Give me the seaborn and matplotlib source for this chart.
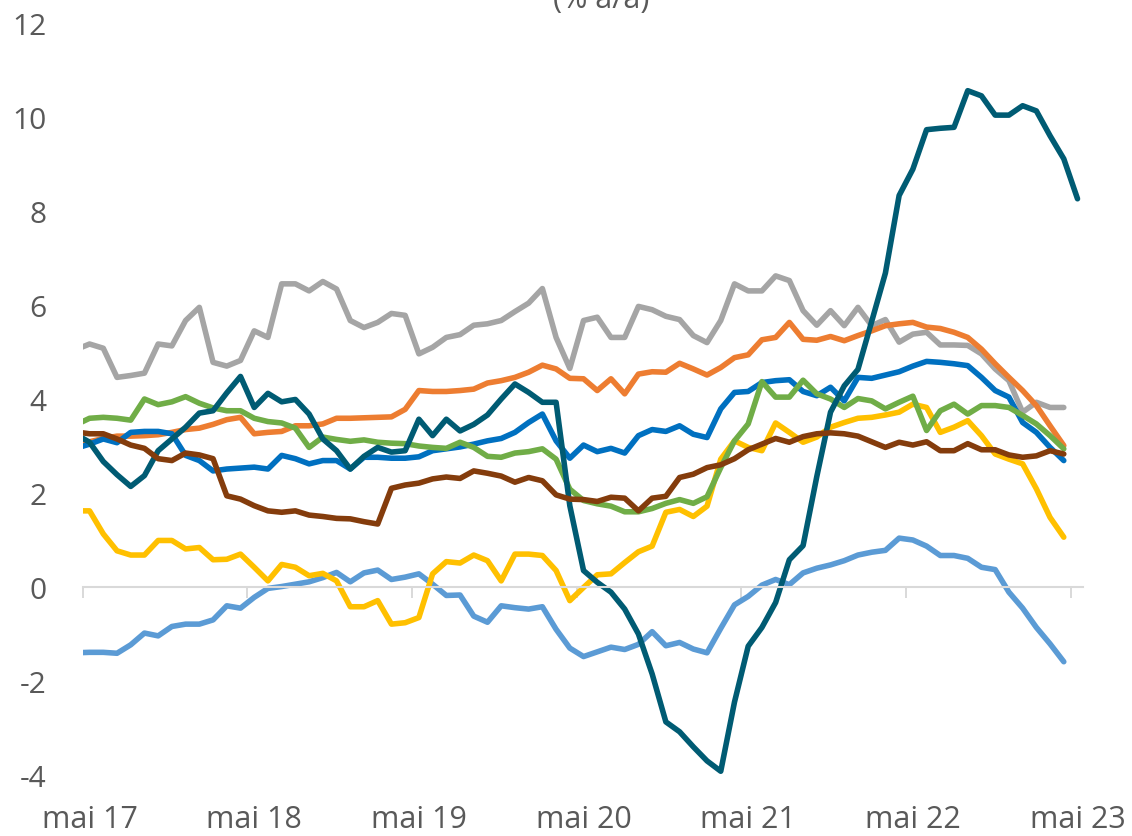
import numpy as np
import pandas as pd
import matplotlib
matplotlib.use("Agg")
import matplotlib.pyplot as plt
import seaborn as sns

# ---------------- data (monthly, % a/a) ----------------
# first value = April 2017 (clipped at the axis start), then May 2017 ... April 2023
gris = [5.05, 5.17, 5.08, 4.46, 4.50, 4.55, 5.17, 5.13, 5.67, 5.95, 4.78, 4.70, 4.82, 5.45, 5.31,
        6.45, 6.45, 6.30, 6.50, 6.34, 5.67, 5.52, 5.63, 5.82, 5.78, 4.96, 5.10, 5.31, 5.37, 5.57,
        5.60, 5.67, 5.86, 6.04, 6.35, 5.31, 4.65, 5.67, 5.74, 5.31, 5.31, 5.97, 5.90, 5.76, 5.69,
        5.35, 5.20, 5.67, 6.45, 6.30, 6.30, 6.62, 6.52, 5.88, 5.57, 5.88, 5.56, 5.95, 5.56, 5.69,
        5.21, 5.38, 5.42, 5.15, 5.15, 5.14, 4.96, 4.64, 4.39, 3.72, 3.93, 3.82, 3.82]
orange = [2.99, 3.09, 3.16, 3.21, 3.21, 3.22, 3.24, 3.29, 3.35, 3.38, 3.46, 3.56, 3.61, 3.26, 3.29,
          3.31, 3.43, 3.43, 3.47, 3.59, 3.59, 3.60, 3.61, 3.62, 3.78, 4.18, 4.16, 4.16, 4.18, 4.21,
          4.34, 4.39, 4.46, 4.57, 4.72, 4.64, 4.44, 4.43, 4.18, 4.43, 4.11, 4.53, 4.58, 4.57, 4.76,
          4.64, 4.51, 4.67, 4.88, 4.94, 5.26, 5.31, 5.63, 5.27, 5.25, 5.33, 5.24, 5.35, 5.45, 5.56,
          5.60, 5.63, 5.53, 5.50, 5.42, 5.31, 5.06, 4.75, 4.46, 4.18, 3.86, 3.43, 3.01]
bleu = [2.95, 3.04, 3.15, 3.07, 3.29, 3.31, 3.31, 3.26, 2.80, 2.69, 2.47, 2.51, 2.53, 2.55, 2.51,
        2.80, 2.73, 2.62, 2.69, 2.69, 2.51, 2.76, 2.76, 2.74, 2.74, 2.77, 2.90, 2.94, 2.98, 3.04,
        3.11, 3.16, 3.29, 3.50, 3.68, 3.11, 2.74, 3.02, 2.88, 2.95, 2.85, 3.22, 3.35, 3.31, 3.43,
        3.25, 3.18, 3.79, 4.14, 4.16, 4.35, 4.39, 4.41, 4.16, 4.07, 4.25, 3.96, 4.46, 4.44, 4.51,
        4.58, 4.70, 4.80, 4.78, 4.75, 4.71, 4.46, 4.18, 4.04, 3.50, 3.29, 2.97, 2.69]
vert = [3.45, 3.59, 3.61, 3.59, 3.55, 4.00, 3.88, 3.94, 4.05, 3.91, 3.81, 3.75, 3.75, 3.59, 3.52,
        3.49, 3.38, 2.97, 3.19, 3.14, 3.10, 3.13, 3.08, 3.06, 3.05, 3.00, 2.97, 2.95, 3.08, 2.97,
        2.78, 2.76, 2.85, 2.88, 2.94, 2.72, 2.08, 1.84, 1.77, 1.72, 1.60, 1.60, 1.67, 1.78, 1.86,
        1.78, 1.92, 2.54, 3.11, 3.47, 4.37, 4.04, 4.04, 4.40, 4.11, 4.00, 3.82, 4.01, 3.96, 3.79,
        3.93, 4.06, 3.33, 3.75, 3.89, 3.68, 3.86, 3.86, 3.82, 3.65, 3.47, 3.22, 2.94]
sarcelle = [3.25, 3.08, 2.67, 2.39, 2.14, 2.37, 2.90, 3.15, 3.40, 3.70, 3.75, 4.13, 4.48, 3.82, 4.12,
            3.94, 3.99, 3.68, 3.15, 2.90, 2.51, 2.78, 2.97, 2.87, 2.90, 3.57, 3.22, 3.57, 3.32, 3.46,
            3.66, 4.00, 4.32, 4.14, 3.93, 3.93, 1.73, 0.35, 0.10, -0.11, -0.47, -1.00, -1.85, -2.87,
            -3.08, -3.40, -3.70, -3.92, -2.45, -1.26, -0.86, -0.33, 0.58, 0.88, 2.35, 3.72, 4.28,
            4.63, 5.65, 6.68, 8.33, 8.89, 9.73, 9.76, 9.78, 10.56, 10.45, 10.04, 10.04, 10.24, 10.13,
            9.60, 9.11, 8.26]
brun = [3.30, 3.26, 3.26, 3.15, 3.02, 2.95, 2.73, 2.69, 2.85, 2.81, 2.73, 1.94, 1.87, 1.73, 1.62,
        1.59, 1.62, 1.53, 1.50, 1.46, 1.45, 1.39, 1.34, 2.10, 2.17, 2.21, 2.30, 2.34, 2.31, 2.47,
        2.42, 2.36, 2.23, 2.33, 2.26, 1.96, 1.87, 1.86, 1.82, 1.91, 1.89, 1.62, 1.89, 1.93, 2.33,
        2.40, 2.54, 2.60, 2.73, 2.92, 3.04, 3.16, 3.08, 3.20, 3.26, 3.28, 3.26, 3.21, 3.09, 2.97,
        3.08, 3.02, 3.09, 2.90, 2.90, 3.05, 2.92, 2.92, 2.81, 2.76, 2.79, 2.90, 2.83]
jaune = [1.62, 1.62, 1.13, 0.77, 0.68, 0.68, 0.99, 0.99, 0.81, 0.84, 0.58, 0.59, 0.70, 0.42, 0.13,
         0.48, 0.42, 0.24, 0.29, 0.13, -0.42, -0.42, -0.29, -0.79, -0.76, -0.65, 0.28, 0.54, 0.51,
         0.68, 0.56, 0.13, 0.70, 0.70, 0.67, 0.35, -0.29, -0.01, 0.26, 0.28, 0.52, 0.75, 0.87, 1.59,
         1.65, 1.50, 1.72, 2.72, 3.11, 2.97, 2.90, 3.49, 3.29, 3.08, 3.19, 3.40, 3.50, 3.59, 3.61,
         3.66, 3.72, 3.89, 3.82, 3.29, 3.40, 3.54, 3.22, 2.83, 2.72, 2.62, 2.09, 1.48, 1.06]
bleu_clair = [-1.40, -1.39, -1.39, -1.41, -1.23, -0.98, -1.04, -0.84, -0.79, -0.79, -0.70, -0.40,
              -0.45, -0.22, -0.03, 0.01, 0.06, 0.11, 0.20, 0.31, 0.11, 0.30, 0.36, 0.16, 0.21, 0.28,
              0.06, -0.18, -0.17, -0.62, -0.75, -0.40, -0.44, -0.47, -0.42, -0.90, -1.30, -1.48,
              -1.38, -1.28, -1.33, -1.22, -0.95, -1.25, -1.18, -1.32, -1.40, -0.88, -0.38, -0.20,
              0.04, 0.16, 0.05, 0.30, 0.40, 0.47, 0.56, 0.68, 0.74, 0.78, 1.04, 1.00, 0.87, 0.67,
              0.67, 0.61, 0.42, 0.37, -0.11, -0.45, -0.86, -1.21, -1.59]

tick_labels = ["mai 17", "mai 18", "mai 19", "mai 20", "mai 21", "mai 22", "mai 23"]

series = {
    "bleu_clair": bleu_clair, "jaune": jaune, "gris": gris, "orange": orange,
    "bleu": bleu, "vert": vert, "sarcelle": sarcelle, "brun": brun,
}
colors = {
    "gris": "#A5A5A5", "orange": "#ED7D31", "bleu": "#0070C0", "vert": "#70AD47",
    "sarcelle": "#005B73", "brun": "#843C0C", "jaune": "#FFC000", "bleu_clair": "#5B9BD5",
}

# months since May 2017, points at mid-month
frames = []
for name, vals in series.items():
    per = pd.period_range("2017-04", periods=len(vals), freq="M")
    x = (per.year - 2017) * 12 + per.month - 5 + 0.5
    frames.append(pd.DataFrame({"x": x, "valeur": vals, "serie": name}))
df = pd.concat(frames, ignore_index=True)

# ---------------- figure ----------------
sns.set_theme(style="white")
plt.rcParams["font.family"] = ["Open Sans", "DejaVu Sans"]
txt = "#595959"

W, H = 1132, 837
fig = plt.figure(figsize=(W / 100, H / 100), dpi=100)
ax = fig.add_axes([82.7 / W, 61 / H, (1083 - 82.7) / W, (776 - 24) / H])

sns.lineplot(data=df, x="x", y="valeur", hue="serie", hue_order=list(series.keys()),
             palette=colors, linewidth=4.0, legend=False, ax=ax, sort=False,
             solid_capstyle="round", solid_joinstyle="round")

ax.set_xlim(0, 72.9)
ax.set_ylim(-4, 12)
ax.set_xlabel("")
ax.set_ylabel("")

for s in ["top", "right", "left"]:
    ax.spines[s].set_visible(False)
ax.spines["bottom"].set_position(("data", 0))
ax.spines["bottom"].set_color("#D9D9D9")
ax.spines["bottom"].set_linewidth(1.5)

ax.set_xticks(np.arange(0, 73, 12))
ax.tick_params(axis="x", which="major", length=8, width=1.4, color="#D9D9D9",
               direction="out", labelbottom=False, bottom=True)

ax.set_yticks(np.arange(-4, 13, 2))
ax.set_yticklabels([f"{v}" for v in range(-4, 13, 2)])
ax.tick_params(axis="y", length=0, pad=26, labelsize=21.5, labelcolor=txt)

sec = ax.secondary_xaxis("bottom")
sec.set_xticks(np.arange(0, 73, 12) + 0.5)
sec.set_xticklabels(tick_labels)
sec.tick_params(length=0, pad=21, labelsize=22, labelcolor=txt)
sec.spines["bottom"].set_visible(False)

fig.text(601 / W, 1 - 8 / H, "(% a/a)", ha="center", va="baseline", fontsize=22, color=txt)

fig.savefig("out.png", dpi=100)
